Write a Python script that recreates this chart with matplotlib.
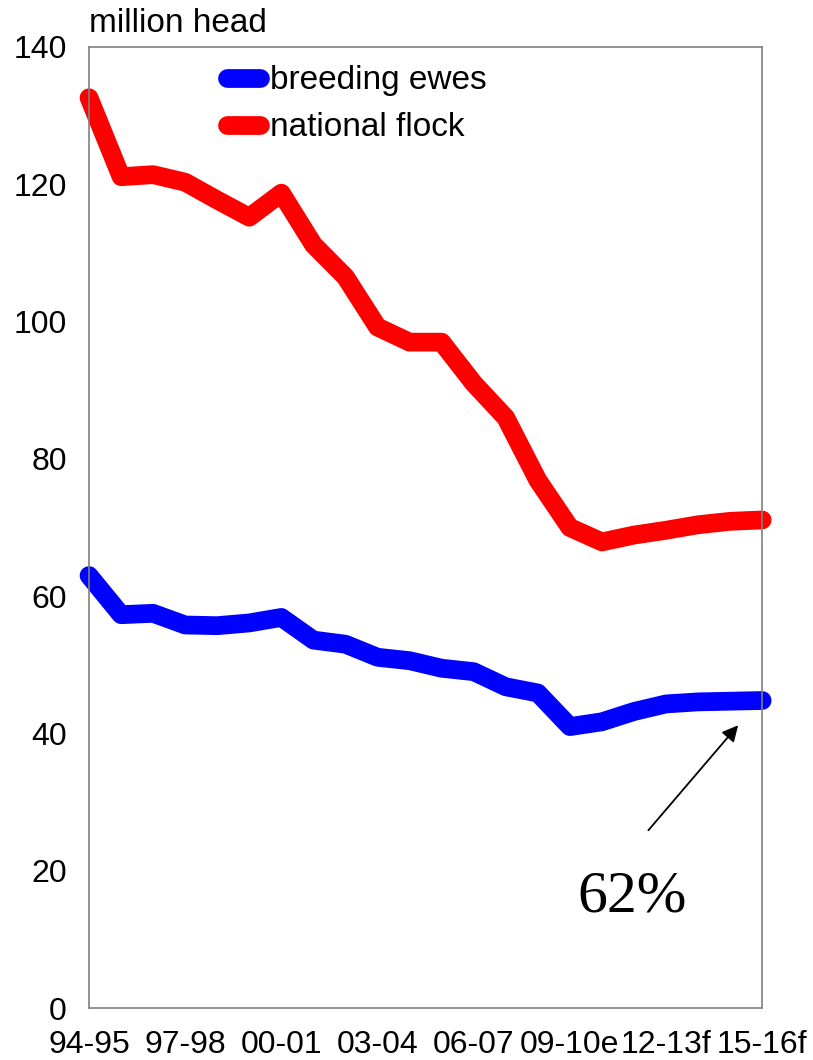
import numpy as np
import matplotlib.pyplot as plt

plt.rcParams['font.family'] = ['Liberation Sans', 'DejaVu Sans']

# crop years, 94-95 through 15-16 (e = estimate, f = forecast)
years = ['94-95', '95-96', '96-97', '97-98', '98-99', '99-00', '00-01', '01-02',
         '02-03', '03-04', '04-05', '05-06', '06-07', '07-08', '08-09', '09-10e',
         '10-11e', '11-12f', '12-13f', '13-14f', '14-15f', '15-16f']

# million head
national_flock = [132.6, 121.1, 121.4, 120.3, 117.7, 115.2, 118.7, 111.2,
                  106.5, 99.2, 97.0, 97.0, 91.0, 86.0, 76.9, 70.0,
                  67.9, 68.9, 69.6, 70.4, 70.9, 71.1]
breeding_ewes = [63.0, 57.3, 57.5, 55.8, 55.7, 56.1, 56.9, 53.6,
                 53.0, 51.1, 50.6, 49.5, 49.0, 46.8, 45.9, 41.0,
                 41.7, 43.2, 44.3, 44.6, 44.7, 44.8]

share_label = '62%'

x = np.arange(len(years))

fig = plt.figure(figsize=(8.13, 10.6), dpi=100)
ax = fig.add_axes([0.1095, 0.049, 0.828, 0.9067])

ax.plot(x, breeding_ewes, color='#0000ff', lw=13.5, solid_capstyle='round',
        solid_joinstyle='round', clip_on=False, label='breeding ewes', zorder=2)
ax.plot(x, national_flock, color='#ff0000', lw=13.5, solid_capstyle='round',
        solid_joinstyle='round', clip_on=False, label='national flock', zorder=2)

ax.set_xlim(0, len(years) - 1)
ax.set_ylim(0, 140)
ax.set_yticks(np.arange(0, 141, 20))
ax.set_xticks(x[::3])
ax.set_xticklabels(years[::3])
ax.tick_params(axis='both', length=0, labelsize=23)
ax.tick_params(axis='y', pad=16)
ax.tick_params(axis='x', pad=16)

for s in ax.spines.values():
    s.set_color('#808080')
    s.set_linewidth(1.2)
    s.set_zorder(3)

ax.text(0, 1.008, 'million head', transform=ax.transAxes, fontsize=24,
        ha='left', va='bottom')

leg = ax.legend(loc='upper left', bbox_to_anchor=(0.17, 1.005), frameon=False,
                fontsize=24, handlelength=1.0, handletextpad=0.3,
                labelspacing=0.48, borderaxespad=0.3)

# arrow pointing at the last breeding-ewes value
ax.annotate('', xy=(20.25, 41.2), xytext=(17.45, 25.9),
            arrowprops=dict(arrowstyle='-|>', color='black', lw=1.3,
                            mutation_scale=24, shrinkA=0, shrinkB=0))
ax.text(16.95, 16.1, share_label, fontsize=43, family='Liberation Serif',
        ha='center', va='center')

fig.savefig('out.png', dpi=100)
